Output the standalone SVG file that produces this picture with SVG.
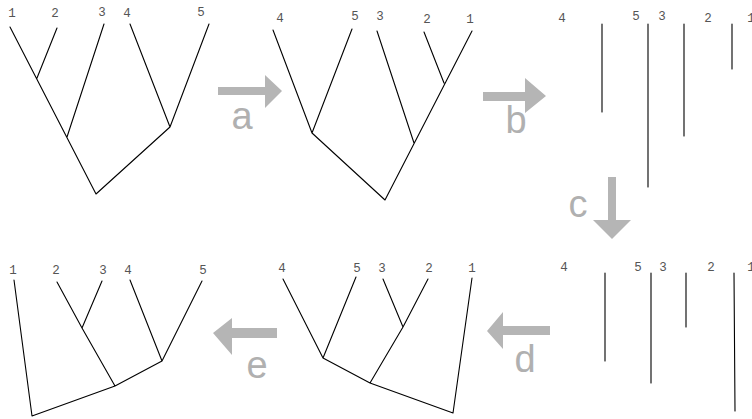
<svg xmlns="http://www.w3.org/2000/svg" width="752" height="419" viewBox="0 0 752 419">
<style>
.e{stroke:#000;stroke-width:1.1;fill:none;stroke-linecap:round;stroke-linejoin:round}
.lb{font-family:"Liberation Mono","Courier New",monospace;font-size:12.5px;fill:#555;text-anchor:middle}
.ar{fill:#b5b5b5}
.al{font-family:"Liberation Sans",Arial,sans-serif;font-size:38px;fill:#b0b0b0;text-anchor:middle}
</style>
<rect width="752" height="419" fill="#fff"/>
<g id="tree1">
<path class="e" d="M10,27L96,194M57,28L37,78M104,24L67,137M130,24L170,127M209,24L170,127L96,194"/>
<text class="lb" x="12" y="17">1</text><text class="lb" x="55" y="17">2</text><text class="lb" x="102" y="16">3</text><text class="lb" x="127" y="17">4</text><text class="lb" x="201" y="16">5</text>
</g>
<g id="tree2">
<path class="e" d="M273,30L312,133M352,29L312,133L385,200M472,31L385,200M424,32L444,83M377,31L414,143"/>
<text class="lb" x="280" y="22">4</text><text class="lb" x="355" y="20">5</text><text class="lb" x="380" y="20">3</text><text class="lb" x="427" y="23">2</text><text class="lb" x="470" y="23">1</text>
</g>
<g id="tree3">
<path class="e" d="M602,24V112M648,24V187M684,24V136M732,24V69"/>
<text class="lb" x="562" y="22">4</text><text class="lb" x="636" y="20">5</text><text class="lb" x="662" y="20">3</text><text class="lb" x="708" y="22">2</text><text class="lb" x="751" y="22">1</text>
</g>
<g id="tree4">
<path class="e" d="M605,273V361M651,273V383M686,273V327M734,273L735,411"/>
<text class="lb" x="564" y="271">4</text><text class="lb" x="638" y="271">5</text><text class="lb" x="663" y="271">3</text><text class="lb" x="711" y="271">2</text><text class="lb" x="751" y="271">1</text>
</g>
<g id="tree5">
<path class="e" d="M283,279L323,358M356,277L323,358L370,383L453,413L472,278M383,279L403,327M428,279L403,327L370,383"/>
<text class="lb" x="282" y="272">4</text><text class="lb" x="357" y="272">5</text><text class="lb" x="382" y="272">3</text><text class="lb" x="429" y="272">2</text><text class="lb" x="472" y="272">1</text>
</g>
<g id="tree6">
<path class="e" d="M14,280L32,416L115,386L162,361M57,282L82,328L115,386M102,281L82,328M130,280L162,361M202,281L162,361"/>
<text class="lb" x="13" y="274">1</text><text class="lb" x="56" y="274">2</text><text class="lb" x="103" y="274">3</text><text class="lb" x="128" y="274">4</text><text class="lb" x="203" y="274">5</text>
</g>
<g id="connectors">
<g id="arrow-a"><polygon class="ar" points="218,87 265,87 265,75 282,91 265,108 265,95 218,95"/><text class="al" x="242" y="129">a</text></g>
<g id="arrow-b"><polygon class="ar" points="483,92 525,92 525,78 546,96 525,113 525,101 483,101"/><text class="al" x="516" y="133">b</text></g>
<g id="arrow-c"><polygon class="ar" points="608,177 616,177 616,220 631,220 612,239 593,220 608,220"/><text class="al" x="578" y="217">c</text></g>
<g id="arrow-d"><polygon class="ar" points="550,326 503,326 503,312 487,331 503,349 503,335 550,335"/><text class="al" x="525" y="372">d</text></g>
<g id="arrow-e"><polygon class="ar" points="277,328 232,328 232,318 213,333 232,355 232,338 277,338"/><text class="al" x="257" y="378">e</text></g>
</g>
</svg>
